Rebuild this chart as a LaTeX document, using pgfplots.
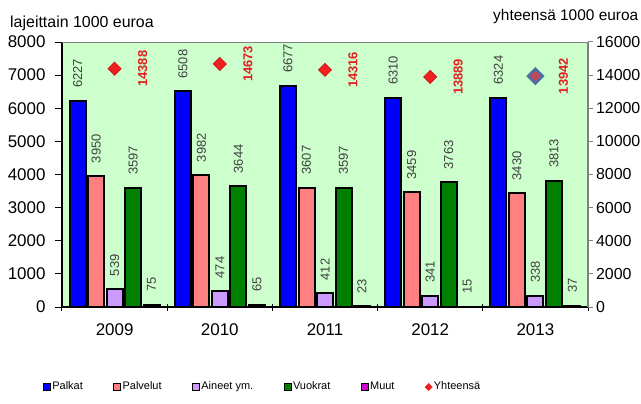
\documentclass[border=0pt]{standalone}
\usepackage{fontspec}
\setmainfont{Liberation Sans}
\usepackage{pgfplots}
\pgfplotsset{compat=1.18}
\definecolor{bg}{HTML}{CCFFCC}
\definecolor{cPalkat}{HTML}{0000FF}
\definecolor{cPalvelut}{HTML}{FF8080}
\definecolor{cAineet}{HTML}{CC99FF}
\definecolor{cVuokrat}{HTML}{008000}
\definecolor{cMuut}{HTML}{CC00CC}
\definecolor{cRed}{HTML}{F02020}
\definecolor{cRedD}{HTML}{D01818}
\definecolor{cLab}{HTML}{404040}
\definecolor{cTot}{HTML}{E02020}
\definecolor{cSteel}{HTML}{4A70A8}
\definecolor{cSel}{HTML}{C04858}
\pgfplotsset{
  /pgf/number format/assume math mode=true,
  /pgf/number format/set thousands separator={},
  barleg/.style={legend image code/.code={\draw[##1, line width=0.8bp, draw=black] (0bp,-3.5bp) rectangle (7bp,3.5bp);}},
  diamleg/.style={legend image code/.code={\draw[##1] plot coordinates {(3.5bp,0bp)};}},
}
\begin{document}
\begin{tikzpicture}
\useasboundingbox (-62bp,-97bp) rectangle (579bp,307bp);
\begin{axis}[
  at={(0,0)}, anchor=south west,
  scale only axis, width=526bp, height=265bp,
  xmin=-0.5, xmax=4.5, ymin=0, ymax=8000,
  axis y line*=left, axis x line*=bottom,
  axis line style={black, line width=1.3bp, -},
  axis background/.style={fill=bg},
  ybar=2.5bp, bar width=16bp,
  xtick={0,...,4}, xticklabels={2009,2010,2011,2012,2013},
  major x tick style={draw=none},
  minor xtick={-0.5,0.5,...,4.5},
  minor tick length=7bp,
  minor x tick style={black, line width=1bp, yshift=3.5bp},
  ytick={0,1000,...,8000},
  tick align=outside, major tick length=7bp,
  major y tick style={black, line width=1bp},
  tick label style={font=\fontsize{17}{20}\selectfont},
  yticklabel style={xshift=-6bp},
  xticklabel style={yshift=-6bp},
  scaled y ticks=false,
  nodes near coords,
  every node near coord/.append style={font=\fontsize{13}{15}\selectfont, text=cLab, rotate=90, anchor=west, inner sep=0pt, outer xsep=13bp},
  legend columns=6,
  legend style={draw=none, fill=none, at={(-0.042,-0.302)}, anchor=west,
    font=\fontsize{11}{13}\selectfont,
    nodes={inner sep=1.5bp, text height=8bp, text depth=2.5bp},
    /tikz/every even column/.append style={column sep=29bp}},
]
\draw[gray, line width=2bp] (rel axis cs:0,1) -- (rel axis cs:1,1);
\addplot[barleg, fill=cPalkat, draw=black, line width=2bp] coordinates {(0,6227) (1,6508) (2,6677) (3,6310) (4,6324)};
\addplot[barleg, fill=cPalvelut, draw=black, line width=2bp] coordinates {(0,3950) (1,3982) (2,3607) (3,3459) (4,3430)};
\addplot[barleg, fill=cAineet, draw=black, line width=2bp] coordinates {(0,539) (1,474) (2,412) (3,341) (4,338)};
\addplot[barleg, fill=cVuokrat, draw=black, line width=2bp] coordinates {(0,3597) (1,3644) (2,3597) (3,3763) (4,3813)};
\addplot[barleg, fill=cMuut, draw=black, line width=2bp] coordinates {(0,75) (1,65) (2,23) (3,15) (4,37)};
\addlegendimage{diamleg, only marks, mark=square*, mark size=2.6bp, mark options={rotate=45, fill=cRed, draw=cRed}}
\legend{Palkat,Palvelut,Aineet ym.,Vuokrat,Muut,Yhteensä}
\end{axis}
\begin{axis}[
  at={(0,0)}, anchor=south west,
  scale only axis, width=526bp, height=265bp,
  xmin=-0.5, xmax=4.5, ymin=0, ymax=16000,
  axis y line*=right, axis x line=none,
  axis line style={gray, line width=2bp, -},
  ytick={0,2000,...,16000},
  tick align=outside, major tick length=5bp,
  major y tick style={gray, line width=1bp},
  tick label style={font=\fontsize{16}{19}\selectfont},
  yticklabel style={xshift=-0.5bp},
  scaled y ticks=false,
]
\addplot[only marks, mark=square*, mark size=4.6bp, mark options={rotate=45, fill=cRed, draw=cRedD, line width=0.8bp},
  nodes near coords,
  every node near coord/.style={font=\bfseries\fontsize{13}{15}\selectfont, text=cTot, xshift=28bp, rotate=90, anchor=center, inner sep=0pt}]
  coordinates {(0,14388) (1,14673) (2,14316) (3,13889) (4,13942)};
\addplot[only marks, mark=square*, mark size=5.2bp, mark options={rotate=45, fill=cSel, draw=cSteel, line width=2.5bp}]
  coordinates {(4,13942)};
\end{axis}
\node[anchor=west, inner sep=0pt, font=\fontsize{16}{19}\selectfont] at (-52bp,284bp) {lajeittain 1000 euroa};
\node[anchor=west, inner sep=0pt, font=\fontsize{15.5}{18}\selectfont] at (431bp,290bp) {yhteensä 1000 euroa};
\end{tikzpicture}
\end{document}
